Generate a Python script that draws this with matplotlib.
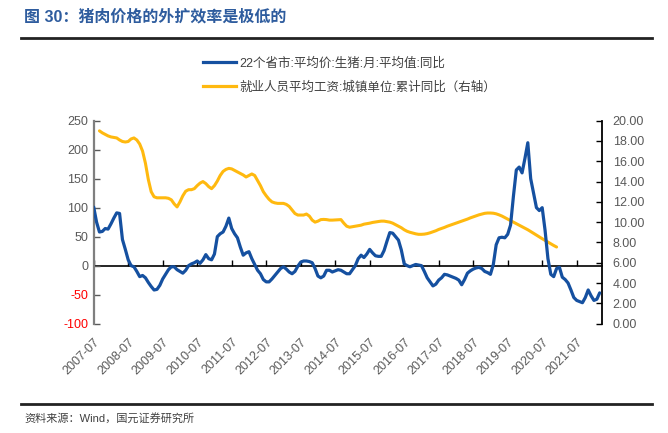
import matplotlib
matplotlib.use("Agg")
import matplotlib.pyplot as plt
import numpy as np

plt.rcParams['font.family'] = ['Liberation Sans', 'Noto Sans CJK SC', 'DejaVu Sans']

# ---------------- data ----------------
title = "图 30：猪肉价格的外扩效率是极低的"
source = "资料来源：Wind，国元证券研究所"
series_pig_name = "22个省市:平均价:生猪:月:平均值:同比"
series_wage_name = "就业人员平均工资:城镇单位:累计同比（右轴）"

# monthly index, 0 = 2007-07
pig_yoy = [101, 75, 58, 59, 64, 63, 72, 82, 91, 90,
           45, 28, 10, 0, -2, -10, -19, -17, -21, -29,
           -36, -42, -41, -34, -23, -15, -7, -2, -2, -7,
           -10, -13, -8, 0, 3, 5, 8, 4, 10, 19,
           12, 10, 20, 50, 55, 58, 68, 82, 64, 55,
           48, 32, 18, 22, 24, 12, 2, -8, -14, -24,
           -28, -28, -23, -17, -11, -5, -2, -6, -11, -14,
           -10, -1, 6, 8, 8, 7, 5, -5, -18, -21,
           -18, -8, -8, -11, -9, -7, -8, -11, -14, -14,
           -7, 0, 12, 18, 14, 20, 28, 22, 17, 16,
           16, 26, 42, 57, 56, 50, 44, 27, 3, 0,
           -2, 0, 2, 1, 0, -10, -21, -28, -35, -32,
           -25, -21, -15, -16, -18, -20, -22, -25, -33, -24,
           -13, -9, -6, -4, -3, -5, -10, -12, -15, 2,
           36, 48, 49, 48, 54, 70, 120, 165, 170, 160,
           185, 212, 150, 125, 100, 95, 100, 61, 12, -15,
           -19, -5, -3, -20, -24, -30, -42, -55, -60, -62,
           -64, -55, -42, -52, -60, -58, -47]
pig_months = list(range(len(pig_yoy)))

wage_start_month = 2
wage_yoy = [19.0, 18.8, 18.65, 18.5, 18.4, 18.35, 18.3, 18.1, 17.95, 17.9,
            17.95, 18.2, 18.3, 18.1, 17.7, 17.0, 15.8, 14.2, 13.0, 12.5,
            12.4, 12.4, 12.4, 12.4, 12.35, 12.2, 11.8, 11.5, 12.0, 12.6,
            13.05, 13.2, 13.2, 13.3, 13.6, 13.85, 14.0, 13.8, 13.5, 13.3,
            13.6, 14.05, 14.6, 15.0, 15.2, 15.3, 15.25, 15.1, 14.95, 14.8,
            14.65, 14.45, 14.6, 14.75, 14.6, 14.1, 13.6, 13.0, 12.6, 12.25,
            12.0, 11.9, 11.85, 11.85, 11.85, 11.75, 11.55, 11.2, 10.85, 10.7,
            10.7, 10.7, 10.8, 10.6, 10.2, 10.0, 10.1, 10.25, 10.27, 10.25,
            10.2, 10.2, 10.22, 10.25, 10.25, 9.9, 9.6, 9.5, 9.55, 9.6,
            9.65, 9.7, 9.8, 9.85, 9.9, 9.97, 10.02, 10.06, 10.1, 10.1,
            10.05, 10.0, 9.9, 9.75, 9.6, 9.45, 9.25, 9.1, 9.0, 8.92,
            8.85, 8.8, 8.8, 8.82, 8.87, 8.95, 9.05, 9.15, 9.28, 9.38,
            9.48, 9.6, 9.7, 9.8, 9.9, 10.0, 10.1, 10.2, 10.3, 10.42,
            10.52, 10.62, 10.72, 10.8, 10.87, 10.9, 10.9, 10.88, 10.82, 10.72,
            10.6, 10.45, 10.3, 10.15, 10.0, 9.85, 9.7, 9.55, 9.4, 9.25,
            9.08, 8.9, 8.72, 8.55, 8.37, 8.2, 8.02, 7.85, 7.7, 7.55]
wage_months = [wage_start_month + i for i in range(len(wage_yoy))]

x_tick_labels = ["2007-07", "2008-07", "2009-07", "2010-07", "2011-07",
                 "2012-07", "2013-07", "2014-07", "2015-07", "2016-07",
                 "2017-07", "2018-07", "2019-07", "2020-07", "2021-07"]
x_tick_months = [12 * i for i in range(len(x_tick_labels))]

left_ticks = [-100, -50, 0, 50, 100, 150, 200, 250]
right_ticks = [0, 2, 4, 6, 8, 10, 12, 14, 16, 18, 20]

# ---------------- style ----------------
BLUE = "#1550A0"
GOLD = "#FFB90F"
GRAY = "#595959"
TITLE_BLUE = "#2E5C9E"

fig = plt.figure(figsize=(6.68, 4.33), dpi=100)
ax = fig.add_axes([0.14027, 0.25266, 0.76048, 0.46859])
ax.set_facecolor("none")

ax.plot(pig_months, pig_yoy, color=BLUE, lw=2.3, solid_capstyle='round', zorder=3)
ax.set_xlim(0, 176.7)
ax.set_ylim(-100, 250)
ax.set_yticks(left_ticks)
ax.set_yticklabels([str(v) for v in left_ticks])
for lab, v in zip(ax.get_yticklabels(), left_ticks):
    lab.set_color("#FF0000" if v < 0 else GRAY)
ax.tick_params(axis='y', direction='in', length=4, width=1.0, color=GRAY,
               labelsize=9, pad=4)

for s in ['top', 'right', 'bottom']:
    ax.spines[s].set_visible(False)
ax.spines['left'].set_color("#7F7F7F")
ax.spines['left'].set_linewidth(1.6)

# x tick labels at the bottom of the plot area
ax.set_xticks(x_tick_months)
ax.set_xticklabels(x_tick_labels, rotation=45, ha='right', va='top',
                   rotation_mode='anchor')
ax.tick_params(axis='x', length=0, labelsize=9, labelcolor=GRAY, pad=9)

# category axis crossing at zero with tick marks
sec = ax.secondary_xaxis(100 / 350)
sec.set_xticks(x_tick_months)
sec.tick_params(axis='x', direction='in', length=4, width=1.0, color='black',
                labelbottom=False)
sec.spines['bottom'].set_color('black')
sec.spines['bottom'].set_linewidth(1.2)

# right axis
ax2 = ax.twinx()
ax2.plot(wage_months, wage_yoy, color=GOLD, lw=2.2, solid_capstyle='round', zorder=2)
ax2.set_ylim(0, 20)
ax2.set_yticks(right_ticks)
ax2.set_yticklabels([f"{v:.2f}" for v in right_ticks])
ax2.tick_params(axis='y', direction='in', length=4, width=1.0, color='black',
                labelsize=9, labelcolor=GRAY, pad=8)
for s in ['top', 'left', 'bottom']:
    ax2.spines[s].set_visible(False)
ax2.spines['right'].set_color('black')
ax2.spines['right'].set_linewidth(1.3)
ax.set_zorder(ax2.get_zorder() + 1)

# legend
h1, = ax.plot([], [], color=BLUE, lw=2.3)
h2, = ax.plot([], [], color=GOLD, lw=2.3)
leg = fig.legend([h1, h2], [series_pig_name, series_wage_name],
                 loc='upper left', bbox_to_anchor=(203 / 668, 1 - 57 / 433),
                 frameon=False, fontsize=9, handlelength=2.6, handletextpad=0.3,
                 labelspacing=0.95, borderaxespad=0, borderpad=0)
for t in leg.get_texts():
    t.set_color("#404040")

# title, rules, source
fig.text(24 / 668, 1 - 17 / 433, title, fontsize=11.5, fontweight='bold',
         color=TITLE_BLUE, va='center', ha='left')
fig.add_artist(plt.Line2D([21 / 668, 652 / 668], [1 - 38 / 433, 1 - 38 / 433],
                          color='#222222', lw=2.0, transform=fig.transFigure))
fig.add_artist(plt.Line2D([21 / 668, 652 / 668], [1 - 404 / 433, 1 - 404 / 433],
                          color='#222222', lw=2.0, transform=fig.transFigure))
fig.text(24 / 668, 1 - 418 / 433, source, fontsize=8, color='#404040',
         va='center', ha='left')

fig.savefig("out.png", dpi=100)
